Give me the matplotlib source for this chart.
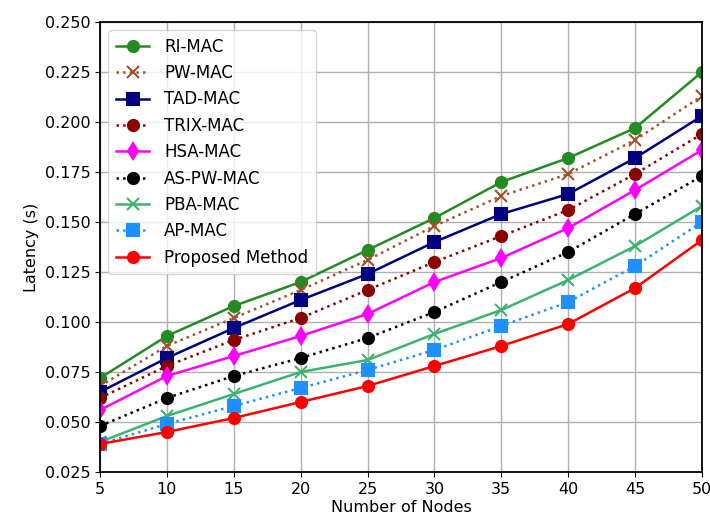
import matplotlib
matplotlib.use('Agg')
import matplotlib.pyplot as plt

nodes = [5, 10, 15, 20, 25, 30, 35, 40, 45, 50]

ri_mac = [0.072, 0.093, 0.108, 0.120, 0.136, 0.152, 0.170, 0.182, 0.197, 0.225]
pw_mac = [0.068, 0.088, 0.102, 0.116, 0.131, 0.148, 0.163, 0.174, 0.191, 0.213]
tad_mac = [0.065, 0.082, 0.097, 0.111, 0.124, 0.140, 0.154, 0.164, 0.182, 0.203]
trix_mac = [0.062, 0.078, 0.091, 0.102, 0.116, 0.130, 0.143, 0.156, 0.174, 0.194]
hsa_mac = [0.056, 0.073, 0.083, 0.093, 0.104, 0.120, 0.132, 0.147, 0.166, 0.186]
as_pw_mac = [0.048, 0.062, 0.073, 0.082, 0.092, 0.105, 0.120, 0.135, 0.154, 0.173]
pba_mac = [0.040, 0.053, 0.064, 0.075, 0.081, 0.094, 0.106, 0.121, 0.138, 0.158]
ap_mac = [0.039, 0.049, 0.058, 0.067, 0.076, 0.086, 0.098, 0.110, 0.128, 0.150]
proposed = [0.039, 0.045, 0.052, 0.060, 0.068, 0.078, 0.088, 0.099, 0.117, 0.141]

series = [
    ('RI-MAC', ri_mac, '#228b22', '-', 'o'),
    ('PW-MAC', pw_mac, '#a0522d', ':', 'x'),
    ('TAD-MAC', tad_mac, '#000080', '-', 's'),
    ('TRIX-MAC', trix_mac, '#8b0000', ':', 'o'),
    ('HSA-MAC', hsa_mac, '#ff00ff', '-', 'd'),
    ('AS-PW-MAC', as_pw_mac, 'black', ':', 'o'),
    ('PBA-MAC', pba_mac, '#3cb371', '-', 'x'),
    ('AP-MAC', ap_mac, '#1e90ff', ':', 's'),
    ('Proposed Method', proposed, 'red', '-', 'o'),
]

plt.rcParams['font.size'] = 11.5

fig = plt.figure(figsize=(7.1, 5.23), dpi=100)
ax = fig.add_axes([100/710, 1 - 472/523, 602/710, 450/523])

for label, vals, color, ls, mk in series:
    ax.plot(nodes, vals, color=color, linestyle=ls, marker=mk, markersize=8,
            linewidth=1.8, label=label, mew=1.5)

ax.set_xlim(5, 50)
ax.set_ylim(0.025, 0.250)
ax.set_xticks(nodes)
ax.set_yticks([0.025 * i for i in range(1, 11)])
ax.yaxis.set_major_formatter(matplotlib.ticker.FormatStrFormatter('%.3f'))
ax.grid(True, color='#b0b0b0', linewidth=1)
ax.set_axisbelow(True)
ax.set_xlabel('Number of Nodes', labelpad=2)
ax.set_ylabel('Latency (s)')
for s in ax.spines.values():
    s.set_linewidth(1.3)
ax.legend(loc='upper left', fontsize=12, handlelength=2.0, handletextpad=0.9,
          labelspacing=0.5, borderpad=0.45)

fig.savefig('out.png', dpi=100)
